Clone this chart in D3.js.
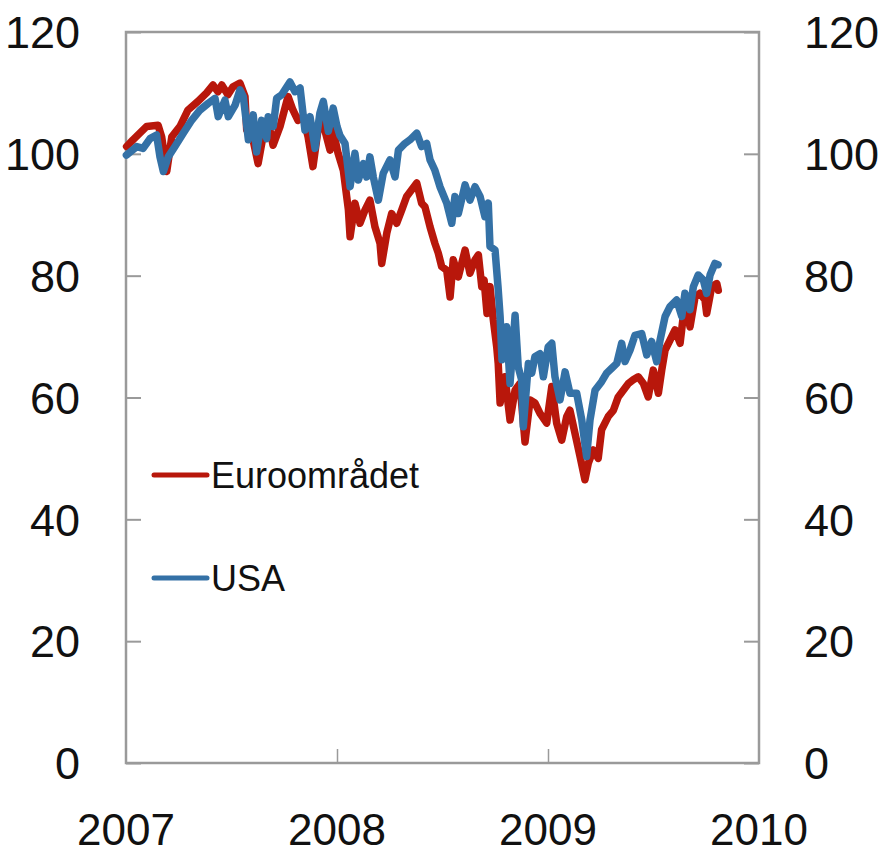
<!DOCTYPE html>
<html>
<head>
<meta charset="utf-8">
<script src="https://cdn.jsdelivr.net/npm/d3@7"></script>
<style>
  body { margin: 0; background: #fff; }
  svg { display: block; }
  text { font-family: "Liberation Sans", Arial, sans-serif; fill: #111; }
</style>
</head>
<body>
<div id="chartContainer"></div>
<script>
// Time as decimal year, values as index (start = 100)
const euroTime = [2007.003, 2007.033, 2007.098, 2007.152, 2007.169, 2007.193, 2007.217, 2007.256, 2007.294, 2007.341,
  2007.382, 2007.412, 2007.436, 2007.454, 2007.483, 2007.507, 2007.540, 2007.564, 2007.572, 2007.602,
  2007.626, 2007.649, 2007.682, 2007.697, 2007.730, 2007.768, 2007.791, 2007.815, 2007.839, 2007.863,
  2007.886, 2007.910, 2007.934, 2007.967, 2007.981, 2008.005, 2008.030, 2008.054, 2008.062, 2008.085,
  2008.109, 2008.133, 2008.156, 2008.180, 2008.204, 2008.212, 2008.236, 2008.259, 2008.283, 2008.307,
  2008.330, 2008.354, 2008.378, 2008.401, 2008.417, 2008.441, 2008.464, 2008.480, 2008.496, 2008.520,
  2008.536, 2008.551, 2008.575, 2008.607, 2008.630, 2008.654, 2008.670, 2008.686, 2008.697, 2008.711,
  2008.725, 2008.741, 2008.757, 2008.764, 2008.773, 2008.796, 2008.820, 2008.844, 2008.867, 2008.891,
  2008.915, 2008.938, 2008.962, 2008.994, 2009.018, 2009.041, 2009.065, 2009.089, 2009.104, 2009.128,
  2009.152, 2009.175, 2009.191, 2009.215, 2009.238, 2009.254, 2009.286, 2009.310, 2009.333, 2009.357,
  2009.381, 2009.404, 2009.428, 2009.452, 2009.475, 2009.499, 2009.523, 2009.539, 2009.555, 2009.578,
  2009.602, 2009.626, 2009.641, 2009.657, 2009.673, 2009.697, 2009.720, 2009.744, 2009.752, 2009.776,
  2009.800, 2009.807];
const euroValue = [101.2, 102.3, 104.5, 104.7, 102.8, 97.1, 102.8, 104.5, 107.2, 108.6,
  110.0, 111.3, 110.2, 111.3, 109.7, 111.0, 111.6, 109.4, 103.9, 102.3,
  98.4, 102.8, 103.9, 101.4, 104.5, 109.4, 107.2, 105.5, 106.1, 102.8,
  97.9, 103.9, 105.0, 100.6, 103.9, 100.1, 97.3, 90.8, 86.4, 91.9,
  88.6, 90.8, 92.4, 88.0, 85.3, 82.0, 87.0, 90.2, 88.6, 90.8,
  93.0, 94.1, 95.2, 91.9, 91.3, 88.0, 85.3, 83.7, 81.5, 80.9,
  76.5, 82.6, 79.8, 84.2, 80.4, 82.6, 83.4, 78.2, 79.3, 73.8,
  78.2, 72.7, 68.3, 65.6, 59.1, 63.4, 56.3, 61.2, 62.3, 52.7,
  59.6, 59.1, 57.4, 55.8, 61.8, 55.8, 53.0, 56.9, 57.9, 54.1,
  50.3, 46.5, 49.2, 51.4, 50.0, 54.7, 56.9, 57.9, 60.1, 61.2,
  62.3, 62.9, 63.4, 62.3, 60.1, 64.5, 60.7, 64.5, 67.8, 69.4,
  71.1, 68.9, 73.3, 74.4, 71.6, 76.5, 77.1, 76.0, 73.8, 78.2,
  78.7, 77.6];

const usaTime = [2007.002, 2007.051, 2007.081, 2007.114, 2007.145, 2007.161, 2007.177, 2007.200, 2007.232, 2007.272,
  2007.311, 2007.351, 2007.390, 2007.422, 2007.437, 2007.469, 2007.485, 2007.517, 2007.540, 2007.556,
  2007.580, 2007.603, 2007.619, 2007.643, 2007.667, 2007.674, 2007.698, 2007.714, 2007.738, 2007.777,
  2007.801, 2007.825, 2007.848, 2007.872, 2007.896, 2007.919, 2007.935, 2007.959, 2007.982, 2008.000,
  2008.014, 2008.038, 2008.062, 2008.085, 2008.101, 2008.125, 2008.141, 2008.156, 2008.172, 2008.196,
  2008.219, 2008.251, 2008.275, 2008.291, 2008.322, 2008.346, 2008.378, 2008.401, 2008.425, 2008.441,
  2008.464, 2008.488, 2008.520, 2008.544, 2008.559, 2008.575, 2008.607, 2008.630, 2008.654, 2008.678,
  2008.701, 2008.717, 2008.725, 2008.749, 2008.763, 2008.773, 2008.782, 2008.796, 2008.804, 2008.820,
  2008.836, 2008.844, 2008.859, 2008.875, 2008.883, 2008.907, 2008.923, 2008.938, 2008.962, 2008.978,
  2009.001, 2009.018, 2009.033, 2009.057, 2009.081, 2009.104, 2009.136, 2009.160, 2009.183, 2009.199,
  2009.223, 2009.254, 2009.278, 2009.302, 2009.326, 2009.349, 2009.365, 2009.389, 2009.412, 2009.444,
  2009.468, 2009.491, 2009.515, 2009.531, 2009.555, 2009.578, 2009.610, 2009.634, 2009.649, 2009.673,
  2009.689, 2009.712, 2009.736, 2009.752, 2009.768, 2009.791, 2009.806];
const usaValue = [99.8, 101.2, 100.9, 102.5, 103.1, 99.5, 97.1, 99.5, 101.2, 103.4,
  105.5, 107.2, 108.3, 109.1, 106.1, 108.8, 106.1, 108.0, 110.5, 109.4,
  102.3, 106.4, 100.3, 105.5, 102.5, 106.1, 104.5, 109.1, 109.7, 111.8,
  110.2, 110.8, 103.9, 106.1, 100.9, 106.7, 108.6, 103.7, 107.5, 104.5,
  103.0, 101.7, 94.6, 100.1, 95.7, 98.4, 96.2, 99.5, 96.2, 92.4,
  96.8, 99.0, 96.2, 100.6, 101.7, 102.3, 103.4, 101.2, 101.7, 99.0,
  97.3, 94.6, 91.9, 88.6, 93.0, 90.2, 94.9, 92.4, 94.6, 93.0,
  89.7, 91.9, 84.8, 84.2, 78.2, 73.3, 66.2, 68.3, 71.6, 62.3,
  69.4, 73.5, 65.0, 62.9, 55.2, 65.6, 64.0, 66.7, 67.2, 63.4,
  68.3, 68.9, 63.4, 59.6, 64.2, 60.7, 60.7, 56.3, 50.3, 56.3,
  61.2, 62.6, 64.0, 64.8, 65.6, 68.9, 65.9, 67.8, 70.2, 70.5,
  67.0, 69.2, 65.9, 69.4, 73.3, 74.9, 76.0, 73.3, 77.1, 74.4,
  78.2, 80.1, 79.3, 77.1, 80.1, 82.0, 81.8];

const yTicks = [0, 20, 40, 60, 80, 100, 120];
const xTicks = [2007, 2008, 2009, 2010];
const seriesNames = ["Euroområdet", "USA"];

const W = 886, H = 856;
const margin = { top: 32, right: 127, bottom: 93, left: 126 };
const width = W - margin.left - margin.right;
const height = H - margin.top - margin.bottom;

const colors = ["#b8170b", "#3471a6"];

const svg = d3.select("#chartContainer")
  .append("svg")
  .attr("width", W)
  .attr("height", H);

const x = d3.scaleLinear().domain([2007, 2010]).range([margin.left, margin.left + width]);
const y = d3.scaleLinear().domain([0, 120]).range([margin.top + height, margin.top]);

const axisColor = "#9a9a9a";

// Left axis: labels outside, ticks inside
svg.append("g")
  .attr("transform", "translate(" + margin.left + ",0)")
  .call(d3.axisRight(y).tickValues(yTicks).tickSize(15).tickFormat(""))
  .call(g => g.select(".domain").remove())
  .call(g => g.selectAll("line").attr("stroke", axisColor).attr("stroke-width", 2));

svg.append("g")
  .attr("transform", "translate(" + (margin.left + width) + ",0)")
  .call(d3.axisLeft(y).tickValues(yTicks).tickSize(15).tickFormat(""))
  .call(g => g.select(".domain").remove())
  .call(g => g.selectAll("line").attr("stroke", axisColor).attr("stroke-width", 2));

// Bottom axis ticks pointing up
svg.append("g")
  .attr("transform", "translate(0," + (margin.top + height) + ")")
  .call(d3.axisTop(x).tickValues([2008, 2009]).tickSize(14).tickFormat(""))
  .call(g => g.select(".domain").remove())
  .call(g => g.selectAll("line").attr("stroke", axisColor).attr("stroke-width", 1.5));

// Frame
svg.append("rect")
  .attr("x", margin.left)
  .attr("y", margin.top)
  .attr("width", width)
  .attr("height", height)
  .attr("fill", "none")
  .attr("stroke", axisColor)
  .attr("stroke-width", 2.5);

// Tick labels
svg.selectAll(".ylab-left")
  .data(yTicks)
  .enter().append("text")
  .attr("x", 80)
  .attr("y", d => y(d))
  .attr("dy", "0.36em")
  .attr("text-anchor", "end")
  .style("font-size", "45px")
  .text(d => d);

svg.selectAll(".ylab-right")
  .data(yTicks)
  .enter().append("text")
  .attr("x", 804)
  .attr("y", d => y(d))
  .attr("dy", "0.36em")
  .attr("text-anchor", "start")
  .style("font-size", "45px")
  .text(d => d);

svg.selectAll(".xlab")
  .data(xTicks)
  .enter().append("text")
  .attr("x", d => x(d))
  .attr("y", 845)
  .attr("text-anchor", "middle")
  .style("font-size", "44px")
  .text(d => d);

// Lines
const line = d3.line()
  .x(d => x(d[0]))
  .y(d => y(d[1]));

const series = [
  d3.zip(euroTime, euroValue),
  d3.zip(usaTime, usaValue)
];

series.forEach(function(s, i) {
  svg.append("path")
    .datum(s)
    .attr("fill", "none")
    .attr("stroke", colors[i])
    .attr("stroke-width", 7.5)
    .attr("stroke-linejoin", "round")
    .attr("stroke-linecap", "round")
    .attr("d", line);
});

// Legend
const legendY = [475, 578];
seriesNames.forEach(function(name, i) {
  svg.append("line")
    .attr("x1", 154).attr("x2", 207)
    .attr("y1", legendY[i]).attr("y2", legendY[i])
    .attr("stroke", colors[i])
    .attr("stroke-width", 5)
    .attr("stroke-linecap", "round");
  svg.append("text")
    .attr("x", 211)
    .attr("y", legendY[i])
    .attr("dy", "0.36em")
    .style("font-size", "36px")
    .text(name);
});
</script>
</body>
</html>
